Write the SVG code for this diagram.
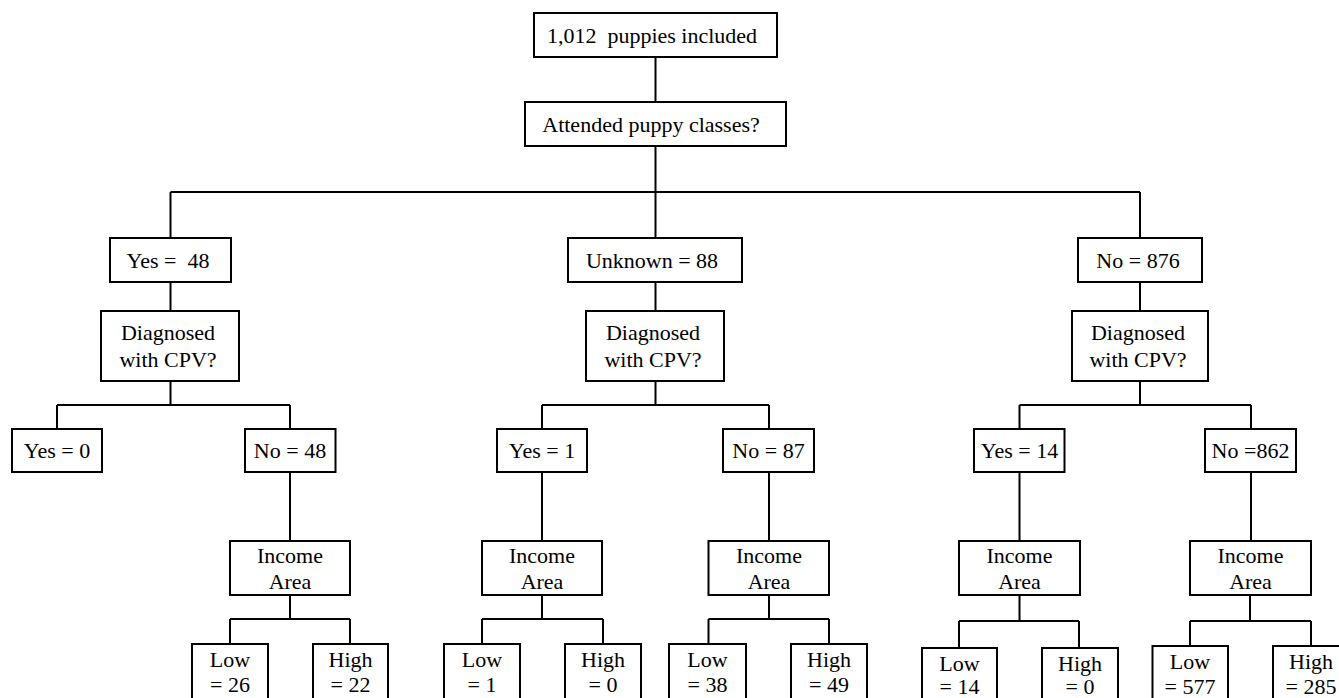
<svg xmlns="http://www.w3.org/2000/svg" width="1339" height="698" viewBox="0 0 1339 698">
<style>
rect{fill:#fff;stroke:#000;stroke-width:2}
.c path{fill:none;stroke:#000;stroke-width:2}
text{font-family:'Liberation Serif','Times New Roman',serif;font-size:22px;fill:#000;text-anchor:middle;white-space:pre}
</style>
<rect x="-5" y="-5" width="1350" height="710" style="stroke:none"/>
<g class="c" id="connectors">
<path d="M655.5 57V102M655.5 146V238M170.5 192H1140M170.5 192V238M1140 192V238"/>
<path d="M170.5 282V311M655.5 282V311M1140 282V311"/>
<path d="M170.5 381V405M57 405H290M57 405V429M290 405V429"/>
<path d="M655.5 381V405M542 405H769M542 405V429M769 405V429"/>
<path d="M1140 381V405M1019.5 405H1251M1019.5 405V429M1251 405V429"/>
<path d="M290 472V541M542 472V541M769 472V541M1019.5 472V541M1251 472V541"/>
<path d="M290 595V619M230 619H350M230 619V644M350 619V644"/>
<path d="M542 595V619M482 619H603M482 619V644M603 619V644"/>
<path d="M769 595V619M708.5 619H829M708.5 619V644M829 619V644"/>
<path d="M1019.5 595V621M959 621H1079M959 621V648M1079 621V648"/>
<path d="M1250 595V621M1190 621H1311M1190 621V646M1311 621V646"/>
</g>
<g id="n-total"><rect x="534" y="13" width="243" height="44"/><text x="652" y="43">1,012  puppies included</text></g>
<g id="n-attended"><rect x="525" y="102" width="261" height="44"/><text x="651" y="132">Attended puppy classes?</text></g>
<g id="n-yes"><rect x="110" y="238" width="121" height="44"/><text x="168" y="268">Yes =  48</text></g>
<g id="n-unknown"><rect x="568" y="238" width="174" height="44"/><text x="652" y="268">Unknown = 88</text></g>
<g id="n-no"><rect x="1078" y="238" width="124" height="44"/><text x="1138" y="268">No = 876</text></g>
<g id="d-yes"><rect x="101" y="311" width="138" height="70"/><text x="168" y="340">Diagnosed</text><text x="168" y="367">with CPV?</text></g>
<g id="d-unknown"><rect x="586" y="311" width="138" height="70"/><text x="653" y="340">Diagnosed</text><text x="653" y="367">with CPV?</text></g>
<g id="d-no"><rect x="1072" y="311" width="136" height="70"/><text x="1138" y="340">Diagnosed</text><text x="1138" y="367">with CPV?</text></g>
<g id="yes-yes"><rect x="12" y="429" width="90" height="43"/><text x="57" y="458">Yes = 0</text></g>
<g id="yes-no"><rect x="245" y="429" width="90.5" height="43"/><text x="290" y="458">No = 48</text></g>
<g id="unk-yes"><rect x="497" y="429" width="90" height="43"/><text x="542" y="458">Yes = 1</text></g>
<g id="unk-no"><rect x="723" y="429" width="91" height="43"/><text x="768.5" y="458">No = 87</text></g>
<g id="no-yes"><rect x="974" y="429" width="90.5" height="43"/><text x="1019.5" y="458">Yes = 14</text></g>
<g id="no-no"><rect x="1205" y="429" width="91" height="43"/><text x="1250.5" y="458">No =862</text></g>
<g id="inc-1"><rect x="230" y="541" width="120" height="54"/><text x="290" y="563">Income</text><text x="290" y="589">Area</text></g>
<g id="inc-2"><rect x="482" y="541" width="120" height="54"/><text x="542" y="563">Income</text><text x="542" y="589">Area</text></g>
<g id="inc-3"><rect x="708.5" y="541" width="120.5" height="54"/><text x="769" y="563">Income</text><text x="769" y="589">Area</text></g>
<g id="inc-4"><rect x="959" y="541" width="121" height="54"/><text x="1019.5" y="563">Income</text><text x="1019.5" y="589">Area</text></g>
<g id="inc-5"><rect x="1190" y="541" width="121" height="54"/><text x="1250.5" y="563">Income</text><text x="1250.5" y="589">Area</text></g>
<g id="l1"><rect x="192" y="644" width="76" height="70"/><text x="230" y="667">Low</text><text x="230" y="692">= 26</text></g>
<g id="h1"><rect x="313" y="644" width="75" height="70"/><text x="350.5" y="667">High</text><text x="350.5" y="692">= 22</text></g>
<g id="l2"><rect x="444" y="644" width="76" height="70"/><text x="482" y="667">Low</text><text x="482" y="692">= 1</text></g>
<g id="h2"><rect x="565" y="644" width="76" height="70"/><text x="603" y="667">High</text><text x="603" y="692">= 0</text></g>
<g id="l3"><rect x="669" y="644" width="77" height="70"/><text x="707.5" y="667">Low</text><text x="707.5" y="692">= 38</text></g>
<g id="h3"><rect x="791" y="644" width="76" height="70"/><text x="829" y="667">High</text><text x="829" y="692">= 49</text></g>
<g id="l4"><rect x="922" y="648" width="75" height="70"/><text x="959.5" y="671">Low</text><text x="959.5" y="694">= 14</text></g>
<g id="h4"><rect x="1042" y="648" width="76" height="70"/><text x="1080" y="671">High</text><text x="1080" y="694">= 0</text></g>
<g id="l5"><rect x="1152.5" y="646" width="75.5" height="70"/><text x="1190" y="669">Low</text><text x="1190" y="694">= 577</text></g>
<g id="h5"><rect x="1273" y="646" width="76" height="70"/><text x="1311" y="669">High</text><text x="1311" y="694">= 285</text></g>
</svg>
